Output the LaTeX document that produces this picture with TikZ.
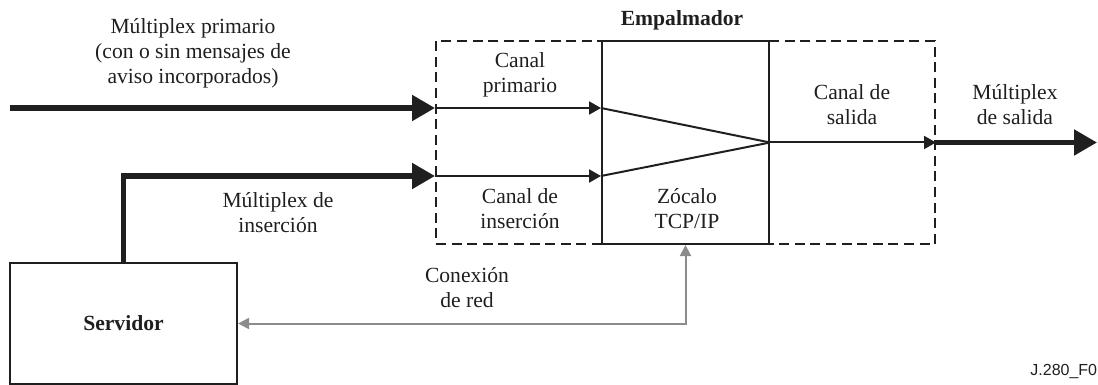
\documentclass[tikz,border=0pt]{standalone}
\usepackage{fontspec}
\setmainfont{Liberation Serif}
\newfontfamily\tagfont{Liberation Sans}
\usetikzlibrary{arrows.meta,positioning,calc}

\tikzset{
  bus/.style={line width=2.6pt, -{Triangle[length=11.5pt,width=12.5pt]}},
  chan/.style={line width=1pt, -{Triangle[length=6pt,width=6.5pt]}},
  net/.style={line width=1pt, black!45, {Triangle[length=5.5pt,width=5.5pt]}-{Triangle[length=5.5pt,width=5.5pt]}},
  lbl/.style={align=center, inner sep=0pt, font=\fontsize{10.8}{12.5}\selectfont},
}

\begin{document}
\begin{tikzpicture}[x=0.5pt, y=-0.5pt, line join=miter, color=black!88]
  \useasboundingbox (0,0) rectangle (1098,385);
  % boxes
  \node[draw, line width=1pt, dash pattern=on 5pt off 2.8pt, minimum width=249.5pt, minimum height=101.5pt, inner sep=0pt] (empalmador) at (685.5,142.5) {};
  \node[draw, line width=1pt, minimum width=83.5pt, minimum height=101.5pt, inner sep=0pt] (zocalo) at (685.5,142.5) {};
  \node[draw, line width=1.1pt, minimum width=113.5pt, minimum height=60.5pt, inner sep=0pt, font=\fontsize{10.8}{12.5}\selectfont\bfseries] (servidor) at (123.5,323.5) {Servidor};
  \coordinate (prim) at (10,108);
  \coordinate (ins) at (123.5,176);
  \coordinate (out) at (1097,142.5);
  % input multiplexes
  \draw[bus] (prim) -- (prim -| empalmador.west);
  \draw[bus] (servidor.north) |- (ins -| empalmador.west);
  % channels into the socket
  \foreach \c in {prim,ins}{
    \draw[chan] (\c -| empalmador.west) -- (\c -| zocalo.west);
    \draw[line width=1pt] (\c -| zocalo.west) -- (zocalo.east);
  }
  % output
  \draw[chan] (zocalo.east) -- (empalmador.east);
  \draw[bus] (empalmador.east) -- (out);
  % network link
  \draw[net] (zocalo.south) |- (servidor.east);
  % labels
  \node[lbl] (lprim) at (193,53) {Múltiplex primario\\(con o sin mensajes de\\aviso incorporados)};
  \node[lbl] (lins) at (278,213) {Múltiplex de\\inserción};
  \node[lbl, font=\fontsize{10.8}{12.5}\selectfont\bfseries] (lemp) at (682,20) {Empalmador};
  \node[lbl] (lcp) at (520,75) {Canal\\primario};
  \node[lbl] (lci) at (520,209) {Canal de\\inserción};
  \node[lbl] (lzoc) at (687,209) {Zócalo\\TCP/IP};
  \node[lbl] (lcs) at (852,105) {Canal de\\salida};
  \node[lbl] (lms) at (1015,105) {Múltiplex\\de salida};
  \node[lbl] (lred) at (467,288) {Conexión\\de red};
  \node[anchor=west, inner sep=0pt, font=\tagfont\fontsize{8}{9}\selectfont] (tag) at (1030,372) {J.280\_F0};
\end{tikzpicture}
\end{document}
